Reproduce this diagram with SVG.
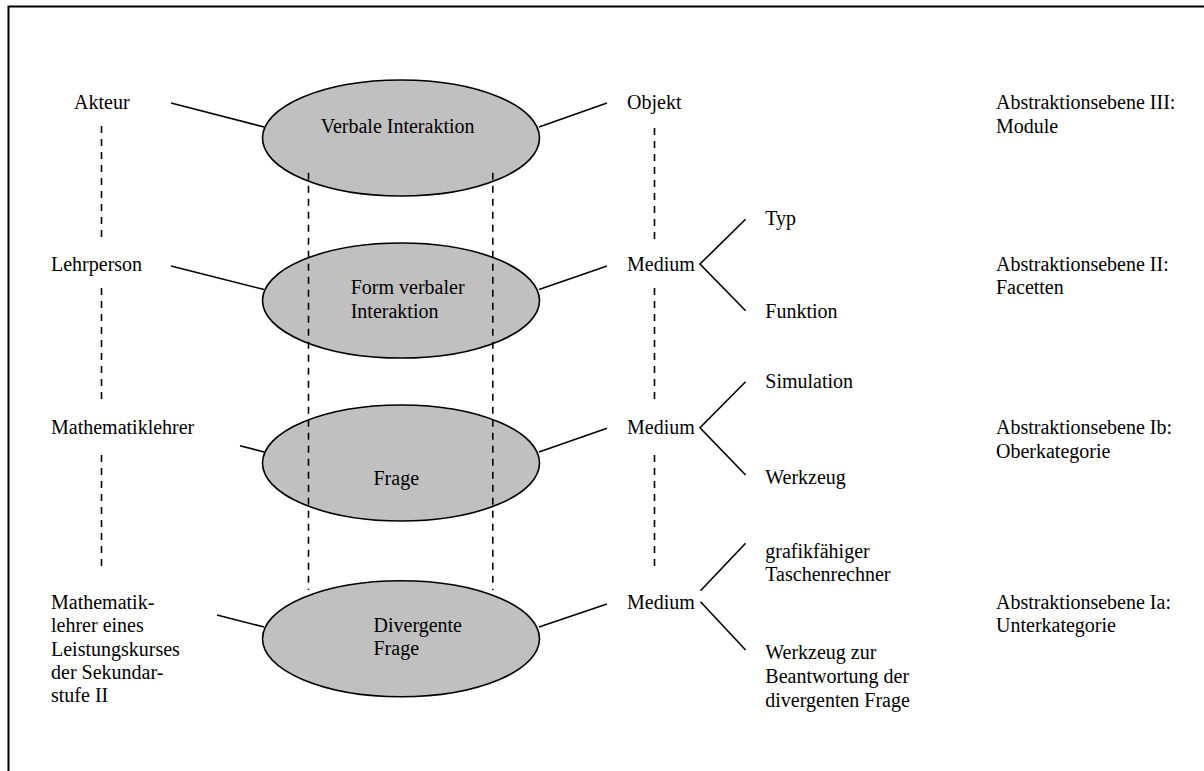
<svg xmlns="http://www.w3.org/2000/svg" width="1204" height="771" viewBox="0 0 1204 771">
<style>
.t text{font-size:20px;fill:#000}
.el{fill:#c0c0c0;stroke:#000;stroke-width:1.6}
.ln{stroke:#000;stroke-width:1.6;fill:none}
.ds{stroke:#000;stroke-width:1.6;fill:none;stroke-dasharray:7 6}
</style>
<rect width="1204" height="771" fill="#fff"/>
<path d="M8.5 800 V6.5 H1220" fill="none" stroke="#000" stroke-width="2"/>
<g id="connectors">
<line class="ln" x1="171" y1="103" x2="264" y2="127"/>
<line class="ln" x1="539" y1="127" x2="607" y2="103"/>
<line class="ln" x1="171" y1="266" x2="264" y2="289.5"/>
<line class="ln" x1="539" y1="289.5" x2="607" y2="266"/>
<line class="ln" x1="240" y1="445.7" x2="264" y2="452"/>
<line class="ln" x1="539" y1="452" x2="607" y2="428.3"/>
<line class="ln" x1="217" y1="615" x2="264" y2="627"/>
<line class="ln" x1="539" y1="627" x2="607" y2="604"/>
<polyline class="ln" points="745.6,219.3 700,264 745.6,310.7"/>
<polyline class="ln" points="745.6,381.7 700,427.7 745.6,475"/>
<line class="ln" x1="700.5" y1="590.7" x2="745.6" y2="543.3"/>
<line class="ln" x1="700.5" y1="601.7" x2="745.6" y2="650"/>
<line class="ds" x1="101.5" y1="126" x2="101.5" y2="240"/>
<line class="ds" x1="101.5" y1="288" x2="101.5" y2="402"/>
<line class="ds" x1="101.5" y1="455" x2="101.5" y2="569"/>
<line class="ds" x1="654.5" y1="128" x2="654.5" y2="242"/>
<line class="ds" x1="654.5" y1="288" x2="654.5" y2="402"/>
<line class="ds" x1="654.5" y1="455" x2="654.5" y2="569"/>
</g>
<g class="t" font-family="'Liberation Serif', 'Times New Roman', 'DejaVu Serif', serif">
<g id="e1"><ellipse class="el" cx="401" cy="138" rx="138.5" ry="58"/><text x="320.7" y="132.7">Verbale Interaktion</text></g>
<g id="e2"><ellipse class="el" cx="401" cy="300.5" rx="138.5" ry="57.5"/><text x="350.7" y="294">Form verbaler</text><text x="350.7" y="318.3">Interaktion</text></g>
<g id="e3"><ellipse class="el" cx="401" cy="463" rx="138.5" ry="58"/><text x="373.5" y="485">Frage</text></g>
<g id="e4"><ellipse class="el" cx="401" cy="638.7" rx="138.5" ry="58"/><text x="373.5" y="631.7">Divergente</text><text x="373.5" y="655">Frage</text></g>
<g id="verticals">
<line class="ds" x1="308.5" y1="172.7" x2="308.5" y2="590"/>
<line class="ds" x1="492.8" y1="172.7" x2="492.8" y2="590"/>
</g>
<g id="akteur"><text x="74" y="109.3">Akteur</text></g>
<g id="lehrperson"><text x="51" y="270.7">Lehrperson</text></g>
<g id="mathelehrer"><text x="51" y="434.3">Mathematiklehrer</text></g>
<g id="mathelehrer-lk"><text x="51" y="609">Mathematik-</text><text x="51" y="632.3">lehrer eines</text><text x="51" y="655.6">Leistungskurses</text><text x="51" y="678.9">der Sekundar-</text><text x="51" y="702.2">stufe II</text></g>
<g id="objekt"><text x="627" y="109.3">Objekt</text></g>
<g id="medium2"><text x="627" y="270.7">Medium</text></g>
<g id="medium3"><text x="627" y="434">Medium</text></g>
<g id="medium4"><text x="627" y="609.3">Medium</text></g>
<g id="typ"><text x="765.3" y="225">Typ</text></g>
<g id="funktion"><text x="765.3" y="317.7">Funktion</text></g>
<g id="simulation"><text x="765.3" y="388.3">Simulation</text></g>
<g id="werkzeug"><text x="765.3" y="484">Werkzeug</text></g>
<g id="gtr"><text x="765.3" y="557.7">grafikfähiger</text><text x="765.3" y="581.4">Taschenrechner</text></g>
<g id="werkzeug-div"><text x="765.3" y="659.3">Werkzeug zur</text><text x="765.3" y="683">Beantwortung der</text><text x="765.3" y="706.7">divergenten Frage</text></g>
<g id="ebene3"><text x="996" y="109.3">Abstraktionsebene III:</text><text x="996" y="132.7">Module</text></g>
<g id="ebene2"><text x="996" y="270.7">Abstraktionsebene II:</text><text x="996" y="294">Facetten</text></g>
<g id="ebene1b"><text x="996" y="434">Abstraktionsebene Ib:</text><text x="996" y="457.7">Oberkategorie</text></g>
<g id="ebene1a"><text x="996" y="609.3">Abstraktionsebene Ia:</text><text x="996" y="631.7">Unterkategorie</text></g>
</g>
</svg>
